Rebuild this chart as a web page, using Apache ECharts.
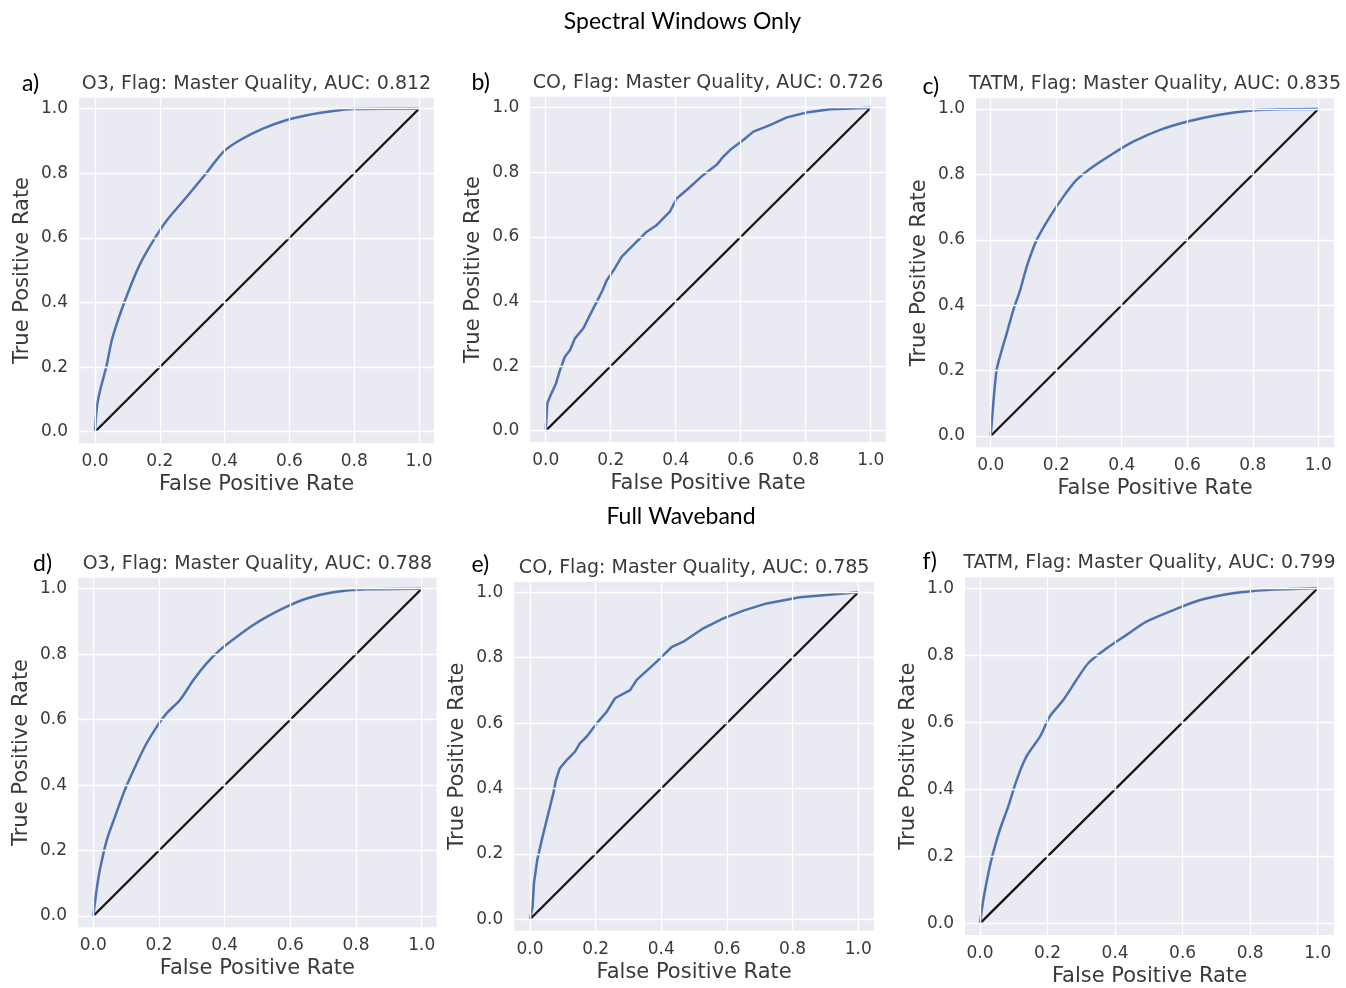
<!DOCTYPE html>
<html>
<head>
<meta charset="utf-8">
<script src="https://cdn.jsdelivr.net/npm/echarts@6/dist/echarts.min.js"></script>
<style>
  html, body { margin: 0; padding: 0; background: #ffffff; }
  #chart { width: 1346px; height: 988px; }
</style>
</head>
<body>
<div id="chart"></div>
<script>
// ---------- data ----------
const ticks = [0.0, 0.2, 0.4, 0.6, 0.8, 1.0];
const diagonal = [[0, 0], [1, 1]];

const fpr_a = [0, 0.006, 0.016, 0.035, 0.052, 0.078, 0.109, 0.140, 0.181, 0.222, 0.284, 0.335, 0.397, 0.448, 0.520, 0.592, 0.654, 0.736, 0.797, 0.900, 1.0];
const tpr_a = [0, 0.077, 0.129, 0.201, 0.284, 0.366, 0.449, 0.521, 0.593, 0.655, 0.728, 0.790, 0.867, 0.903, 0.939, 0.965, 0.980, 0.993, 0.999, 1.0, 1.0];

const fpr_b = [0, 0.005, 0.013, 0.032, 0.044, 0.059, 0.075, 0.090, 0.116, 0.136, 0.157, 0.175, 0.188, 0.213, 0.234, 0.270, 0.311, 0.342, 0.382, 0.403, 0.439, 0.485, 0.526, 0.546, 0.567, 0.608, 0.639, 0.690, 0.742, 0.803, 0.875, 1.0];
const tpr_b = [0, 0.085, 0.105, 0.147, 0.188, 0.229, 0.250, 0.286, 0.317, 0.358, 0.399, 0.435, 0.466, 0.503, 0.539, 0.575, 0.616, 0.637, 0.678, 0.719, 0.750, 0.792, 0.823, 0.848, 0.869, 0.900, 0.926, 0.946, 0.970, 0.985, 0.995, 1.0];

const fpr_c = [0, 0.008, 0.018, 0.034, 0.049, 0.069, 0.090, 0.110, 0.140, 0.181, 0.222, 0.262, 0.313, 0.374, 0.435, 0.517, 0.598, 0.690, 0.791, 0.893, 1.0];
const tpr_c = [0, 0.100, 0.202, 0.263, 0.314, 0.385, 0.446, 0.518, 0.599, 0.671, 0.732, 0.783, 0.824, 0.864, 0.900, 0.936, 0.961, 0.981, 0.995, 0.999, 1.0];

const fpr_d = [0, 0.010, 0.020, 0.041, 0.066, 0.096, 0.132, 0.162, 0.193, 0.223, 0.264, 0.305, 0.345, 0.386, 0.437, 0.487, 0.528, 0.589, 0.650, 0.731, 0.832, 1.0];
const tpr_d = [0, 0.079, 0.141, 0.232, 0.303, 0.385, 0.466, 0.527, 0.578, 0.619, 0.660, 0.721, 0.772, 0.813, 0.853, 0.889, 0.914, 0.945, 0.970, 0.989, 0.998, 1.0];

const fpr_e = [0, 0.008, 0.012, 0.022, 0.036, 0.051, 0.061, 0.071, 0.079, 0.091, 0.112, 0.137, 0.152, 0.173, 0.203, 0.234, 0.259, 0.305, 0.325, 0.386, 0.431, 0.467, 0.528, 0.589, 0.650, 0.721, 0.822, 1.0];
const tpr_e = [0, 0.039, 0.110, 0.181, 0.243, 0.304, 0.345, 0.385, 0.426, 0.462, 0.487, 0.513, 0.538, 0.559, 0.599, 0.635, 0.676, 0.701, 0.732, 0.788, 0.832, 0.849, 0.890, 0.920, 0.944, 0.966, 0.985, 1.0];

const fpr_f = [0, 0.010, 0.025, 0.039, 0.059, 0.084, 0.109, 0.138, 0.178, 0.207, 0.247, 0.286, 0.321, 0.375, 0.434, 0.494, 0.573, 0.652, 0.750, 0.849, 1.0];
const tpr_f = [0, 0.071, 0.151, 0.211, 0.280, 0.350, 0.429, 0.499, 0.558, 0.618, 0.667, 0.727, 0.777, 0.821, 0.861, 0.901, 0.935, 0.965, 0.985, 0.995, 1.0];

const panelLabels = ['a)', 'b)', 'c)', 'd)', 'e)', 'f)'];
const panelTitles = [
  'O3, Flag: Master Quality, AUC: 0.812',
  'CO, Flag: Master Quality, AUC: 0.726',
  'TATM, Flag: Master Quality, AUC: 0.835',
  'O3, Flag: Master Quality, AUC: 0.788',
  'CO, Flag: Master Quality, AUC: 0.785',
  'TATM, Flag: Master Quality, AUC: 0.799'
];
const rowTitles = ['Spectral Windows Only', 'Full Waveband'];
const xAxisTitle = 'False Positive Rate';
const yAxisTitle = 'True Positive Rate';

const fprs = [fpr_a, fpr_b, fpr_c, fpr_d, fpr_e, fpr_f];
const tprs = [tpr_a, tpr_b, tpr_c, tpr_d, tpr_e, tpr_f];

// ---------- layout (pixels) ----------
// bg: plot background rect [left, top, right, bottom]; x0/x1: px of x=0/x=1; yT/yB: px of y=1/y=0
const layouts = [
  { bg: [79, 97.7, 434, 443.3],     x0: 95,    x1: 419,    yT: 108.7, yB: 431.7, lab: [22, 84] },
  { bg: [530.3, 96.7, 885.7, 442.3], x0: 545.7, x1: 870.7, yT: 107.7, yB: 430.7, lab: [471.5, 83] },
  { bg: [976, 98.3, 1334, 447.3],   x0: 990.7, x1: 1318.3, yT: 109,   yB: 436,   lab: [922.5, 86.5] },
  { bg: [78, 577.7, 436.7, 927.3],  x0: 93.3,  x1: 421.7,  yT: 588.7, yB: 916,   lab: [33, 563.3] },
  { bg: [514.3, 581.7, 874, 930.7], x0: 530,   x1: 858.3,  yT: 592.3, yB: 919.3, lab: [471.5, 565] },
  { bg: [965, 577.3, 1334, 935.7],  x0: 980,   x1: 1317.7, yT: 588.3, yB: 924,   lab: [922.5, 561.7] }
];
const rowTitlePos = [[682.5, 22], [681, 516.5]];
const smoothFlags = [true, false, true, true, false, true];

const AXIS_FONT = 'DejaVu Sans';
const TEXT_COLOR = '#3a3a3a';
const BG = '#EAEAF2';
const BLUE = '#4C72B0';

const grids = [], xAxes = [], yAxes = [], series = [], graphics = [];

layouts.forEach((L, i) => {
  const [l, t, r, b] = L.bg;
  grids.push({
    left: l, top: t, width: r - l, height: b - t,
    show: true, backgroundColor: BG, borderWidth: 0, containLabel: false
  });
  const xmin = -(L.x0 - l) / (L.x1 - L.x0);
  const xmax = 1 + (r - L.x1) / (L.x1 - L.x0);
  const ymin = -(b - L.yB) / (L.yB - L.yT);
  const ymax = 1 + (L.yT - t) / (L.yB - L.yT);
  xAxes.push({
    type: 'value', gridIndex: i, min: xmin, max: xmax,
    axisLine: { show: false }, axisTick: { show: false, customValues: ticks }, splitLine: { show: false },
    axisLabel: {
      customValues: ticks, formatter: v => v.toFixed(1), margin: 10,
      fontSize: 17, color: TEXT_COLOR, fontFamily: AXIS_FONT
    },
    name: xAxisTitle, nameLocation: 'middle', nameGap: 31,
    nameTextStyle: { fontSize: 21, color: TEXT_COLOR, fontFamily: AXIS_FONT }
  });
  yAxes.push({
    type: 'value', gridIndex: i, min: ymin, max: ymax,
    axisLine: { show: false }, axisTick: { show: false, customValues: ticks }, splitLine: { show: false },
    axisLabel: {
      customValues: ticks, formatter: v => v.toFixed(1), margin: 11,
      fontSize: 17, color: TEXT_COLOR, fontFamily: AXIS_FONT
    },
    name: yAxisTitle, nameLocation: 'middle', nameGap: 46,
    nameTextStyle: { fontSize: 21, color: TEXT_COLOR, fontFamily: AXIS_FONT }
  });
  // white grid lines at tick values
  series.push({
    type: 'line', xAxisIndex: i, yAxisIndex: i, data: [], z: 1, silent: true,
    markLine: {
      silent: true, symbol: ['none', 'none'], label: { show: false },
      lineStyle: { color: '#ffffff', width: 1.3, type: 'solid' },
      emphasis: { disabled: true },
      data: ticks.map(v => ({ xAxis: v })).concat(ticks.map(v => ({ yAxis: v })))
    }
  });
  // diagonal reference
  series.push({
    type: 'line', xAxisIndex: i, yAxisIndex: i, data: diagonal, z: 2,
    showSymbol: false, symbol: 'none', silent: true,
    lineStyle: { color: '#151515', width: 2.3 }
  });
  // ROC curve
  series.push({
    type: 'line', xAxisIndex: i, yAxisIndex: i, z: 3,
    data: fprs[i].map((x, k) => [x, tprs[i][k]]),
    showSymbol: false, symbol: 'none', silent: true,
    smooth: smoothFlags[i] ? 0.25 : false,
    lineStyle: { color: BLUE, width: 2.5 }
  });
  // panel title
  graphics.push({
    type: 'text', x: (l + r) / 2, y: t - 14,
    style: {
      text: panelTitles[i], fill: TEXT_COLOR, font: '19px "DejaVu Sans"',
      align: 'center', verticalAlign: 'middle', textAlign: 'center', textVerticalAlign: 'middle'
    }
  });
  // panel letter
  graphics.push({
    type: 'text', x: L.lab[0], y: L.lab[1],
    style: {
      text: panelLabels[i], fill: '#000000', font: '23px Lato',
      align: 'left', verticalAlign: 'middle', textAlign: 'left', textVerticalAlign: 'middle'
    }
  });
});

rowTitles.forEach((txt, k) => {
  graphics.push({
    type: 'text', x: rowTitlePos[k][0], y: rowTitlePos[k][1],
    style: {
      text: txt, fill: '#000000', font: '23px Lato',
      align: 'center', verticalAlign: 'middle', textAlign: 'center', textVerticalAlign: 'middle'
    }
  });
});

const chart = echarts.init(document.getElementById('chart'), null, { renderer: 'canvas' });
chart.setOption({
  animation: false,
  backgroundColor: '#ffffff',
  grid: grids,
  xAxis: xAxes,
  yAxis: yAxes,
  series: series,
  graphic: graphics
});
</script>
</body>
</html>
